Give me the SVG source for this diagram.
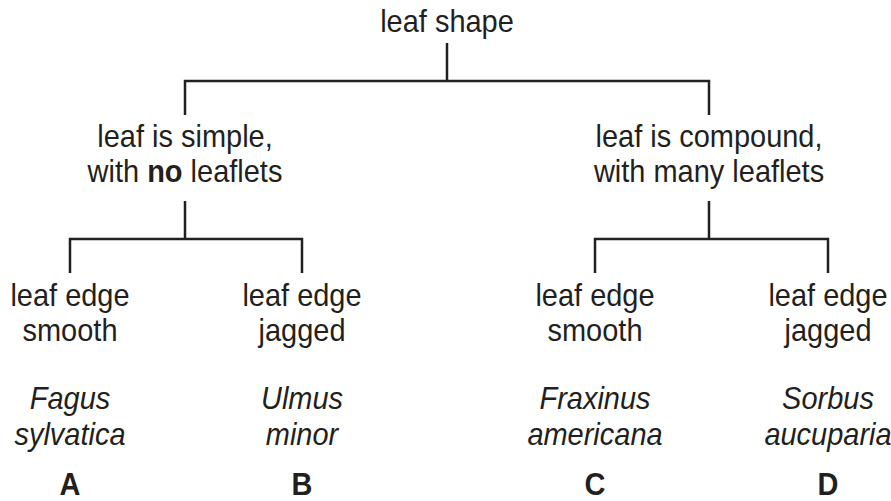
<svg xmlns="http://www.w3.org/2000/svg" width="891" height="501" viewBox="0 0 891 501">
<style>
text{font-family:"Liberation Sans",Arial,sans-serif;font-size:31.5px;fill:#231f20;text-anchor:middle}
.it{font-style:italic}
.b{font-weight:bold}
.ln{stroke:#231f20;stroke-width:2.5;fill:none}
</style>
<rect width="891" height="501" fill="#fff"/>
<g id="connectors">
<path class="ln" d="M447 43V81M185 115V81H709V115"/>
<path class="ln" d="M185 201V239M70 273V239H302V273"/>
<path class="ln" d="M709 201V239M595 273V239H828V273"/>
</g>
<g id="root" transform="translate(447 0) scale(0.92 1)"><text x="0" y="32">leaf shape</text></g>
<g id="simple" transform="translate(185 0) scale(0.92 1)"><text x="0" y="147">leaf is simple,</text><text x="0" y="182">with <tspan class="b">no</tspan> leaflets</text></g>
<g id="compound" transform="translate(709 0) scale(0.92 1)"><text x="0" y="147">leaf is compound,</text><text x="0" y="182">with many leaflets</text></g>
<g id="A" transform="translate(70 0) scale(0.92 1)"><text x="0" y="306">leaf edge</text><text x="0" y="341">smooth</text><text class="it" x="0" y="409">Fagus</text><text class="it" x="0" y="445">sylvatica</text><text class="b" x="0" y="495">A</text></g>
<g id="B" transform="translate(302 0) scale(0.92 1)"><text x="0" y="306">leaf edge</text><text x="0" y="341">jagged</text><text class="it" x="0" y="409">Ulmus</text><text class="it" x="0" y="445">minor</text><text class="b" x="0" y="495">B</text></g>
<g id="C" transform="translate(595 0) scale(0.92 1)"><text x="0" y="306">leaf edge</text><text x="0" y="341">smooth</text><text class="it" x="0" y="409">Fraxinus</text><text class="it" x="0" y="445">americana</text><text class="b" x="0" y="495">C</text></g>
<g id="D" transform="translate(828 0) scale(0.92 1)"><text x="0" y="306">leaf edge</text><text x="0" y="341">jagged</text><text class="it" x="0" y="409">Sorbus</text><text class="it" x="0" y="445">aucuparia</text><text class="b" x="0" y="495">D</text></g>
</svg>
